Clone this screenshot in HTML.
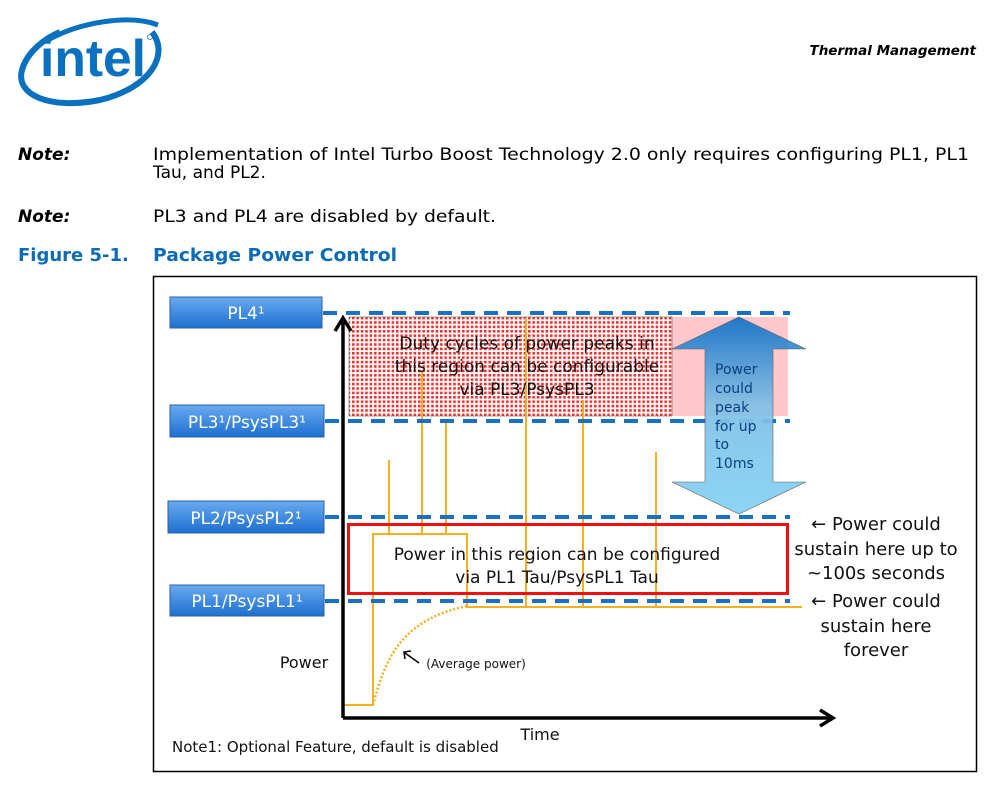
<!DOCTYPE html>
<html><head><meta charset="utf-8"><style>
html,body{margin:0;padding:0;background:#fff;}
svg{display:block;}
</style></head><body>
<svg width="1000" height="786" viewBox="0 0 1000 786" xmlns="http://www.w3.org/2000/svg">
<defs>
<pattern id="dots" width="4.4" height="4.4" patternUnits="userSpaceOnUse">
<rect width="4.4" height="4.4" fill="#fff"/>
<rect x="0" y="0" width="2.6" height="2.6" fill="#f03030"/>
</pattern>
<linearGradient id="btn" x1="0" y1="0" x2="0" y2="1">
<stop offset="0" stop-color="#6aaaf0"/><stop offset="1" stop-color="#1d6fd0"/>
</linearGradient>
<linearGradient id="arr" x1="0" y1="0" x2="0" y2="1">
<stop offset="0" stop-color="#1070c8"/><stop offset="0.45" stop-color="#7fc0e6"/><stop offset="1" stop-color="#84d2f4"/>
</linearGradient>
</defs>
<!-- logo -->
<path d="M152,32 C170,55 150,88 100,100 C50,110 15,95 22,70 C27,52 45,38 60,32" fill="none" stroke="#0a71c0" stroke-width="6"/>
<path d="M48,40 C80,22 130,14 158,25" fill="none" stroke="#0a71c0" stroke-width="5"/>
<text x="40" y="76" font-family="Liberation Sans, sans-serif" font-size="52" font-weight="bold" fill="#0a71c0" textLength="106" lengthAdjust="spacingAndGlyphs">intel</text>
<circle cx="150" cy="37" r="2.5" fill="none" stroke="#0a71c0" stroke-width="0.8"/>
<text x="976" y="55" text-anchor="end" font-family="DejaVu Sans, sans-serif" font-size="13.5" font-weight="bold" font-style="italic">Thermal Management</text>
<!-- notes -->
<g font-family="DejaVu Sans, sans-serif" font-size="17">
<text x="18" y="160" font-weight="bold" font-style="italic">Note:</text>
<text x="153" y="160" textLength="816" lengthAdjust="spacingAndGlyphs">Implementation of Intel Turbo Boost Technology 2.0 only requires configuring PL1, PL1</text>
<text x="153" y="178">Tau, and PL2.</text>
<text x="18" y="222" font-weight="bold" font-style="italic">Note:</text>
<text x="153" y="222" textLength="343" lengthAdjust="spacingAndGlyphs">PL3 and PL4 are disabled by default.</text>
<text x="18" y="261" font-weight="bold" fill="#0a6cb5" font-size="18">Figure 5-1.</text>
<text x="153" y="261" font-weight="bold" fill="#0a6cb5" font-size="18" textLength="244" lengthAdjust="spacingAndGlyphs">Package Power Control</text>
</g>
<!-- figure frame -->
<rect x="153.5" y="276.5" width="823" height="495" fill="none" stroke="#000" stroke-width="1.5"/>
<!-- regions -->
<rect x="349" y="317" width="439" height="99" fill="#ffc8cc"/>
<rect x="349" y="317" width="323" height="99" fill="url(#dots)" stroke="#666" stroke-width="0.6"/>
<!-- orange lines -->
<g stroke="#f8b020" stroke-width="2" fill="none">
<line x1="389" y1="460" x2="389" y2="534"/>
<line x1="422" y1="372" x2="422" y2="534"/>
<line x1="446" y1="420" x2="446" y2="534"/>
<line x1="526" y1="318" x2="526" y2="607"/>
<line x1="583" y1="400" x2="583" y2="607"/>
<line x1="656" y1="452" x2="656" y2="607"/>
<polyline points="343,705 373,705 373,534 467,534 467,607 802,607"/>
<path d="M373,705 C385,660 400,620 467,606" stroke-dasharray="2 2" stroke-width="2.5"/>
</g>
<!-- red box -->
<rect x="348.5" y="524.5" width="439" height="69" fill="none" stroke="#f01010" stroke-width="3"/>
<!-- dashed lines -->
<g stroke="#1a70c4" stroke-width="4" stroke-dasharray="14 9">
<line x1="323" y1="313" x2="790" y2="313"/>
<line x1="325" y1="421" x2="790" y2="421"/>
<line x1="325" y1="517" x2="790" y2="517"/>
<line x1="325" y1="601" x2="790" y2="601"/>
</g>
<!-- blue arrow -->
<path d="M739,317 L806,349 L773,349 L773,482 L806,482 L739,514 L672,482 L705,482 L705,349 L672,349 Z" fill="url(#arr)" stroke="#555" stroke-width="0.6" opacity="0.92"/>
<g font-family="DejaVu Sans, sans-serif" font-size="14" fill="#0a3e80">
<text x="715" y="374">Power</text><text x="715" y="393">could</text><text x="715" y="412">peak</text>
<text x="715" y="431">for up</text><text x="715" y="449">to</text><text x="715" y="468">10ms</text>
</g>
<!-- axes -->
<g stroke="#000" stroke-width="3.5" fill="none">
<line x1="343" y1="322" x2="343" y2="718"/>
<line x1="343" y1="718" x2="830" y2="718"/>
<polyline points="335,331 343,318 351,331"/>
<polyline points="820,710 833,718 820,726"/>
</g>
<!-- level buttons -->
<g font-family="DejaVu Sans, sans-serif" font-size="17" fill="#fff" text-anchor="middle">
<rect x="170" y="297" width="152" height="31" fill="url(#btn)" stroke="#2a5fa8"/>
<text x="246" y="319">PL4¹</text>
<rect x="170" y="405" width="154" height="32" fill="url(#btn)" stroke="#2a5fa8"/>
<text x="247" y="428">PL3¹/PsysPL3¹</text>
<rect x="168" y="501" width="156" height="32" fill="url(#btn)" stroke="#2a5fa8"/>
<text x="246" y="524">PL2/PsysPL2¹</text>
<rect x="170" y="585" width="154" height="31" fill="url(#btn)" stroke="#2a5fa8"/>
<text x="247" y="607">PL1/PsysPL1¹</text>
</g>
<!-- texts -->
<g font-family="DejaVu Sans, sans-serif" fill="#111" text-anchor="middle">
<g font-size="17">
<text x="527" y="349">Duty cycles of power peaks in</text>
<text x="527" y="372">this region can be configurable</text>
<text x="527" y="395">via PL3/PsysPL3</text>
<text x="557" y="560">Power in this region can be configured</text>
<text x="557" y="583">via PL1 Tau/PsysPL1 Tau</text>
</g>
<g font-size="18">
<text x="876" y="530">← Power could</text>
<text x="876" y="555">sustain here up to</text>
<text x="876" y="579">~100s seconds</text>
<text x="876" y="607">← Power could</text>
<text x="876" y="632">sustain here</text>
<text x="876" y="656">forever</text>
</g>
<text x="304" y="668" font-size="16">Power</text>
<text x="540" y="740" font-size="16">Time</text>
<text x="476" y="668" font-size="12">(Average power)</text>
<text x="172" y="752" font-size="15" text-anchor="start">Note1: Optional Feature, default is disabled</text>
</g>
<g stroke="#000" stroke-width="1.5" fill="none">
<line x1="419" y1="663" x2="405" y2="653"/>
<polyline points="405,659 404,652 411,651"/>
</g>
</svg>
</body></html>
